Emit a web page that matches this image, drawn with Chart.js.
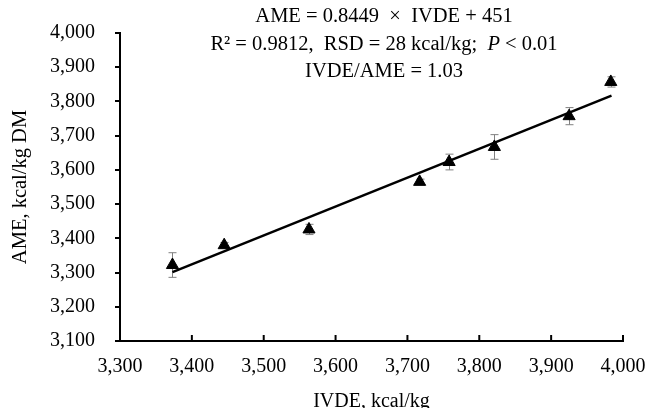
<!DOCTYPE html>
<html>
<head>
<meta charset="utf-8">
<script src="https://cdn.jsdelivr.net/npm/chart.js@4/dist/chart.umd.min.js"></script>
<style>
    html, body { margin: 0; padding: 0; background: #fff; }
    #wrap { width: 647px; height: 408px; position: relative; }
</style>
</head>
<body>
<div id="wrap"><canvas id="chart"></canvas></div>
<script>
// Valeurs
const ivde = [3373, 3445, 3563, 3717, 3758, 3821, 3925, 3983];
const ame = [3322, 3380, 3426, 3565, 3623, 3667, 3757, 3857];
const ameErr = [36, 8, 15, 8, 23, 36, 25, 15];

// Droite de régression (extrémités)
const fitX = [3373, 3984];
const fitY = [3301, 3817];

const xTicks = [3300, 3400, 3500, 3600, 3700, 3800, 3900, 4000];
const yTicks = [3100, 3200, 3300, 3400, 3500, 3600, 3700, 3800, 3900, 4000];

const FONT = "'Liberation Serif', 'Times New Roman', serif";

// Barres d'erreur + petits traits de l'axe X vers l'intérieur + équation
const extras = {
    id: 'extras',
    beforeDatasetsDraw(chart) {
        const ctx = chart.ctx;
        const x = chart.scales.x, y = chart.scales.y;
        ctx.save();
        ctx.strokeStyle = '#808080';
        ctx.lineWidth = 1;
        ivde.forEach((v, i) => {
            const px = Math.round(x.getPixelForValue(v)) + 0.5;
            const top = y.getPixelForValue(ame[i] + ameErr[i]);
            const bot = y.getPixelForValue(ame[i] - ameErr[i]);
            ctx.beginPath();
            ctx.moveTo(px, top); ctx.lineTo(px, bot);
            ctx.moveTo(px - 4, top); ctx.lineTo(px + 4, top);
            ctx.moveTo(px - 4, bot); ctx.lineTo(px + 4, bot);
            ctx.stroke();
        });
        ctx.restore();
    },
    afterDraw(chart) {
        const ctx = chart.ctx;
        const x = chart.scales.x;
        const area = chart.chartArea;
        ctx.save();
        ctx.strokeStyle = '#000';
        ctx.lineWidth = 2;
        xTicks.slice(1).forEach(v => {
            const px = x.getPixelForValue(v);
            ctx.beginPath();
            ctx.moveTo(px, area.bottom);
            ctx.lineTo(px, area.bottom - 6);
            ctx.stroke();
        });

        // Texte de l'équation
        const cx = 384;
        const size = '20.5px ';
        ctx.fillStyle = '#000';
        ctx.textBaseline = 'middle';
        ctx.textAlign = 'center';
        ctx.font = size + FONT;
        ctx.fillText('AME = 0.8449  \u00D7  IVDE + 451', cx, 17);
        ctx.fillText('IVDE/AME = 1.03', cx, 72);

        // Ligne 2 avec le P en italique
        const parts = [
            ['R\u00B2 = 0.9812,  RSD = 28 kcal/kg;  ', size + FONT],
            ['P', 'italic ' + size + FONT],
            [' < 0.01', size + FONT]
        ];
        let total = 0;
        parts.forEach(p => { ctx.font = p[1]; total += ctx.measureText(p[0]).width; });
        let sx = cx - total / 2;
        ctx.textAlign = 'left';
        parts.forEach(p => {
            ctx.font = p[1];
            ctx.fillText(p[0], sx, 45);
            sx += ctx.measureText(p[0]).width;
        });
        ctx.restore();
    }
};

const chart = new Chart(document.getElementById('chart').getContext('2d'), {
    type: 'scatter',
    data: {
        datasets: [{
            label: 'AME',
            data: ivde.map((v, i) => ({ x: v, y: ame[i] })),
            pointStyle: 'triangle',
            radius: 7,
            backgroundColor: '#000',
            borderColor: '#000',
            borderWidth: 1,
            order: 1
        }, {
            type: 'line',
            label: 'Fit',
            data: fitX.map((v, i) => ({ x: v, y: fitY[i] })),
            borderColor: '#000',
            borderWidth: 2.5,
            pointRadius: 0,
            fill: false,
            order: 2
        }]
    },
    options: {
        responsive: true,
        maintainAspectRatio: false,
        animation: false,
        layout: {
            padding: { left: 8, top: 33, right: 24, bottom: 0 }
        },
        plugins: {
            legend: { display: false },
            tooltip: { enabled: false }
        },
        scales: {
            x: {
                type: 'linear',
                min: 3300,
                max: 4000,
                afterFit(scale) {
                    scale.height = 67;
                    scale.paddingLeft = 0;
                    scale.paddingRight = 0;
                },
                afterBuildTicks(scale) { scale.ticks = xTicks.map(v => ({ value: v })); },
                border: { color: '#000', width: 2 },
                grid: { drawOnChartArea: false, drawTicks: false },
                ticks: {
                    padding: 14,
                    maxRotation: 0,
                    color: '#000',
                    font: { family: FONT, size: 20 },
                    callback: v => v.toLocaleString('en-US')
                },
                title: {
                    display: true,
                    text: 'IVDE, kcal/kg',
                    color: '#000',
                    padding: { top: 0, bottom: -6 },
                    font: { family: FONT, size: 20 }
                }
            },
            y: {
                min: 3100,
                max: 4000,
                afterFit(scale) {
                    scale.width = 112;
                    scale.paddingTop = 0;
                    scale.paddingBottom = 0;
                },
                afterBuildTicks(scale) { scale.ticks = yTicks.map(v => ({ value: v })); },
                border: { color: '#000', width: 2 },
                grid: {
                    drawOnChartArea: false,
                    drawTicks: true,
                    tickLength: 5,
                    color: '#000',
                    lineWidth: 2
                },
                ticks: {
                    padding: 20,
                    color: '#000',
                    font: { family: FONT, size: 20 },
                    callback: v => v.toLocaleString('en-US')
                },
                title: {
                    display: true,
                    text: 'AME, kcal/kg DM',
                    color: '#000',
                    padding: 0,
                    font: { family: FONT, size: 20.5 }
                }
            }
        }
    },
    plugins: [extras]
});
</script>
</body>
</html>
